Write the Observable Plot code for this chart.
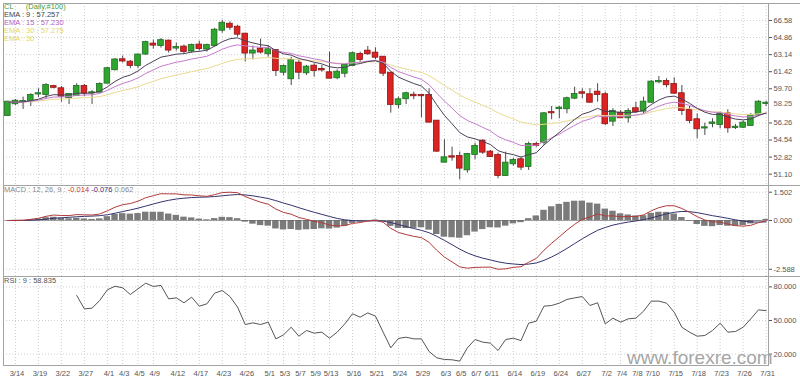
<!DOCTYPE html>
<html>
<head>
<meta charset="utf-8">
<script src="https://cdn.jsdelivr.net/npm/d3@7"></script>
<script src="https://cdn.jsdelivr.net/npm/@observablehq/plot@0.6"></script>
<style>
  html, body { margin: 0; padding: 0; background: #fff; }
  #wrap { position: relative; width: 800px; height: 378px; overflow: hidden; font-family: "Liberation Sans", Arial, sans-serif; }
  .pane { position: absolute; left: 0; }
  .pane svg { display: block; overflow: visible; }
  .lbl { position: absolute; font-size: 7.5px; line-height: 8px; white-space: pre; }
  #wm { position: absolute; left: 627px; top: 352px; font-size: 19px; line-height: 12px; height: 12px; color: #a6a6a6; white-space: pre; }
</style>
</head>
<body>
<div id="wrap">
  <div class="pane" id="pMain" style="top:0px"></div>
  <div class="pane" id="pMacd" style="top:185px"></div>
  <div class="pane" id="pRsi" style="top:276px"></div>
  <div class="lbl" style="left:4px;top:2.5px;color:#3f9d3f">CL      (Daily,#100)</div>
  <div class="lbl" style="left:4px;top:10.5px;color:#444">EMA : 9 : 57.257</div>
  <div class="lbl" style="left:4px;top:18.5px;color:#b35fbe">EMA : 15 : 57.230</div>
  <div class="lbl" style="left:4px;top:26.5px;color:#e3d66a">EMA : 30 : 57.275</div>
  <div class="lbl" style="left:4px;top:34.5px;color:#e3d66a">EMA : 30</div>
  <div class="lbl" style="left:4px;top:186px;color:#888">MACD : 12, 26, 9 : <span style="color:#c23232">-0.014</span> <span style="color:#33337a">-0.076</span> <span style="color:#888">0.062</span></div>
  <div class="lbl" style="left:4px;top:277px;color:#555">RSI : 9 : 58.835</div>
  <div id="wm">www.forexre.com</div>
</div>
<script>
// ---- data ----
const dates = ["3/13","3/14","3/15","3/18","3/19","3/20","3/21","3/22","3/25","3/26","3/27","3/28","3/29",
  "4/1","4/2","4/3","4/4","4/5","4/8","4/9","4/10","4/11","4/12","4/15","4/16","4/17","4/18",
  "4/22","4/23","4/24","4/25","4/26","4/29","4/30","5/1","5/2","5/3","5/6","5/7","5/8","5/9","5/10",
  "5/13","5/14","5/15","5/16","5/17","5/20","5/21","5/22","5/23","5/24","5/27","5/28","5/29","5/30","5/31",
  "6/3","6/4","6/5","6/6","6/7","6/10","6/11","6/12","6/13","6/14","6/17","6/18","6/19","6/20","6/21",
  "6/24","6/25","6/26","6/27","6/28","7/1","7/2","7/3","7/4","7/5","7/8","7/9","7/10","7/11","7/12",
  "7/15","7/16","7/17","7/18","7/19","7/22","7/23","7/24","7/25","7/26","7/29","7/30","7/31"];

const tickLabels = ["3/14","3/19","3/22","3/27","4/1","4/3","4/5","4/9","4/12","4/17","4/23","4/26","5/1","5/3","5/7","5/9","5/13","5/16","5/21","5/24","5/29","6/3","6/5","6/7","6/11","6/14","6/19","6/24","6/27","7/2","7/4","7/8","7/10","7/15","7/18","7/23","7/26","7/31"];

const open = [57.01,58.19,58.40,58.42,59.18,59.13,59.92,59.70,58.80,59.03,
  59.93,59.28,59.36,60.27,61.62,62.62,62.38,62.05,63.20,64.20,
  64.05,64.50,63.80,63.90,63.50,64.10,63.70,64.05,65.60,66.20,
  65.90,65.20,63.30,63.70,63.23,63.56,61.37,60.71,62.28,61.31,
  61.98,61.65,61.31,60.81,61.27,62.05,63.16,63.49,63.29,62.88,
  61.27,58.12,58.70,59.05,59.02,59.03,56.44,52.31,52.85,52.88,
  51.54,53.09,54.43,53.32,52.98,50.97,52.15,52.55,51.88,54.08,
  54.32,57.30,57.70,57.69,58.76,59.30,59.10,59.36,59.10,56.44,
  57.25,56.78,57.69,57.45,58.35,60.40,60.44,60.13,59.20,57.52,
  56.58,55.75,56.20,56.11,57.18,55.80,55.83,56.01,57.11,58.22];
const high = [58.45,58.62,58.86,59.20,59.70,60.21,60.05,59.93,59.20,60.20,
  60.13,59.53,60.30,61.85,62.75,63.00,62.55,63.20,64.50,64.60,
  64.75,64.60,64.30,64.10,64.20,64.50,64.20,65.80,66.60,66.45,
  66.10,65.30,64.00,64.70,64.06,63.60,62.10,62.88,62.55,62.05,
  62.22,62.05,63.39,61.60,62.22,63.39,63.39,63.96,63.83,62.95,
  61.30,58.86,59.36,59.36,59.10,59.70,56.50,54.57,53.82,53.32,
  53.20,54.22,54.57,53.49,53.22,53.32,52.70,52.82,54.33,54.30,
  57.30,57.92,57.92,58.86,59.86,59.70,59.70,60.21,59.36,57.70,
  57.50,57.70,58.35,58.86,60.54,60.94,60.71,60.81,60.03,57.92,
  57.18,56.24,56.68,57.35,57.59,56.10,56.45,57.20,58.50,58.45];
const low = [56.95,58.02,57.62,57.92,58.80,58.70,59.70,58.35,58.12,58.93,
  58.93,58.12,59.30,60.20,61.50,62.30,61.72,61.72,63.05,63.70,
  63.80,63.30,63.50,63.20,63.30,63.50,63.40,63.90,65.30,65.60,
  64.90,62.40,62.60,63.20,62.88,60.94,61.00,60.03,60.61,61.04,
  60.87,61.38,60.71,60.61,60.81,62.00,62.38,63.06,62.62,60.94,
  57.25,57.69,58.12,58.60,56.78,56.30,53.30,52.30,52.41,50.54,
  51.20,52.55,53.09,52.82,50.64,50.87,51.90,51.47,51.47,53.80,
  54.00,56.58,56.68,57.18,58.60,58.70,58.25,58.35,56.00,55.90,
  56.70,56.24,57.25,57.18,58.25,60.20,59.80,59.13,57.01,56.18,
  54.67,55.00,55.77,55.67,55.23,55.60,55.70,55.90,56.90,57.92];
const close = [58.35,58.45,58.42,59.03,59.20,60.03,59.85,58.96,59.13,59.93,
  59.26,59.30,60.13,61.72,62.60,62.50,62.05,63.10,64.35,64.10,
  64.55,63.60,63.85,63.45,64.05,63.75,64.05,65.60,66.30,65.90,
  65.20,63.30,63.50,63.40,63.63,61.54,61.95,62.55,61.37,61.88,
  61.54,61.60,60.77,61.37,62.05,63.23,62.65,63.23,62.88,61.27,
  58.12,58.59,59.20,59.00,59.00,56.34,53.42,52.75,52.82,51.71,
  53.09,53.89,53.32,52.88,50.97,52.21,52.48,51.81,54.09,54.00,
  57.18,57.28,57.75,58.70,59.13,59.25,58.35,59.13,56.18,57.42,
  56.78,57.42,57.42,58.35,60.37,60.43,60.11,59.26,57.52,56.51,
  55.67,55.77,56.26,57.11,55.77,55.83,56.24,57.01,58.35,58.25];

const ema9 = [58.35,58.37,58.38,58.51,58.65,58.93,59.11,59.08,59.09,59.26,
  59.26,59.27,59.44,59.90,60.44,60.85,61.09,61.49,62.06,62.47,
  62.89,63.03,63.19,63.24,63.40,63.47,63.59,63.99,64.45,64.74,
  64.83,64.52,64.32,64.14,64.04,63.54,63.22,63.09,62.75,62.58,
  62.37,62.21,61.92,61.81,61.86,62.13,62.24,62.44,62.53,62.28,
  61.45,60.88,60.54,60.23,59.98,59.25,58.09,57.02,56.18,55.29,
  54.85,54.66,54.39,54.09,53.47,53.22,53.07,52.82,53.07,53.26,
  54.04,54.69,55.30,55.98,56.61,57.14,57.38,57.73,57.42,57.42,
  57.29,57.32,57.34,57.54,58.11,58.57,58.88,58.96,58.67,58.24,
  57.73,57.34,57.12,57.12,56.85,56.65,56.57,56.66,57.00,57.26];
const ema15 = [58.35,58.36,58.37,58.45,58.55,58.73,58.87,58.88,58.91,59.04,
  59.07,59.10,59.23,59.54,59.92,60.24,60.47,60.80,61.24,61.60,
  61.97,62.17,62.38,62.51,62.70,62.83,62.98,63.31,63.68,63.96,
  64.12,64.02,63.95,63.88,63.85,63.56,63.36,63.26,63.02,62.88,
  62.71,62.57,62.35,62.23,62.21,62.34,62.38,62.49,62.54,62.38,
  61.85,61.44,61.16,60.89,60.65,60.11,59.27,58.46,57.75,57.00,
  56.51,56.18,55.82,55.46,54.90,54.56,54.30,53.99,54.00,54.00,
  54.40,54.76,55.13,55.58,56.02,56.42,56.66,56.97,56.87,56.94,
  56.92,56.98,57.04,57.20,57.60,57.95,58.22,58.35,58.25,58.03,
  57.74,57.49,57.34,57.31,57.12,56.96,56.87,56.89,57.07,57.23];
const ema30 = [58.35,58.36,58.36,58.40,58.46,58.56,58.64,58.66,58.69,58.77,
  58.80,58.84,58.92,59.10,59.33,59.53,59.69,59.91,60.20,60.45,
  60.72,60.90,61.09,61.24,61.43,61.58,61.74,61.98,62.26,62.50,
  62.67,62.71,62.76,62.80,62.86,62.77,62.72,62.71,62.62,62.57,
  62.51,62.45,62.34,62.28,62.26,62.32,62.35,62.40,62.43,62.36,
  62.09,61.86,61.69,61.52,61.35,61.03,60.54,60.04,59.57,59.06,
  58.68,58.37,58.04,57.71,57.28,56.95,56.66,56.35,56.20,56.06,
  56.13,56.21,56.31,56.46,56.63,56.80,56.90,57.05,56.99,57.02,
  57.00,57.03,57.05,57.14,57.35,57.55,57.71,57.81,57.79,57.71,
  57.58,57.46,57.38,57.37,57.26,57.17,57.11,57.10,57.18,57.27];

const macd = [0,0.008,0.011,0.062,0.116,0.222,0.289,0.267,0.260,0.315,
  0.302,0.291,0.345,0.511,0.705,0.841,0.902,1.024,1.207,1.316,
  1.423,1.415,1.413,1.362,1.355,1.310,1.284,1.372,1.482,1.502,
  1.475,1.273,1.115,0.971,0.865,0.606,0.429,0.333,0.160,0.063,
  -0.041,-0.117,-0.242,-0.289,-0.268,-0.154,-0.109,-0.027,0.010,-0.090,
  -0.418,-0.633,-0.746,-0.842,-0.907,-1.160,-1.578,-1.941,-2.197,-2.461,
  -2.530,-2.491,-2.478,-2.475,-2.588,-2.564,-2.487,-2.452,-2.215,-2.011,
  -1.575,-1.207,-0.868,-0.517,-0.201,0.058,0.188,0.350,0.238,0.247,
  0.199,0.211,0.218,0.295,0.513,0.683,0.783,0.785,0.638,0.435,
  0.204,0.028,-0.071,-0.079,-0.191,-0.272,-0.300,-0.257,-0.114,-0.014];
const signal = [0,0.002,0.004,0.015,0.035,0.073,0.116,0.146,0.169,0.198,
  0.219,0.233,0.256,0.307,0.386,0.477,0.562,0.655,0.765,0.875,
  0.985,1.071,1.139,1.184,1.218,1.236,1.246,1.271,1.313,1.351,
  1.379,1.357,1.309,1.241,1.166,1.054,0.929,0.810,0.680,0.556,
  0.437,0.326,0.213,0.112,0.036,-0.002,-0.023,-0.024,-0.017,-0.032,
  -0.109,-0.214,-0.320,-0.425,-0.521,-0.649,-0.835,-1.056,-1.284,-1.520,
  -1.722,-1.876,-1.996,-2.092,-2.191,-2.265,-2.309,-2.338,-2.313,-2.253,
  -2.118,-1.936,-1.722,-1.481,-1.225,-0.969,-0.737,-0.520,-0.368,-0.245,
  -0.156,-0.083,-0.023,0.041,0.135,0.245,0.352,0.439,0.479,0.470,
  0.417,0.339,0.257,0.190,0.114,0.037,-0.031,-0.076,-0.084,-0.076];
const hist = [0,0.006,0.008,0.047,0.081,0.149,0.173,0.121,0.091,0.117,
  0.083,0.058,0.089,0.204,0.319,0.364,0.340,0.369,0.442,0.441,
  0.438,0.344,0.274,0.178,0.137,0.074,0.038,0.101,0.169,0.151,
  0.097,-0.084,-0.194,-0.270,-0.301,-0.448,-0.500,-0.477,-0.520,-0.493,
  -0.478,-0.443,-0.455,-0.401,-0.304,-0.152,-0.086,-0.003,0.027,-0.058,
  -0.309,-0.419,-0.426,-0.417,-0.386,-0.511,-0.743,-0.885,-0.913,-0.941,
  -0.808,-0.615,-0.482,-0.383,-0.397,-0.299,-0.178,-0.114,0.098,0.242,
  0.543,0.729,0.854,0.964,1.024,1.027,0.925,0.870,0.606,0.492,
  0.355,0.294,0.241,0.254,0.378,0.438,0.431,0.346,0.159,-0.035,
  -0.213,-0.311,-0.328,-0.269,-0.305,-0.309,-0.269,-0.181,-0.030,0.062];

const rsi = [null,null,null,null,null,null,null,null,null,72.3,
  60.4,61.0,67.9,77.4,80.6,79.2,73.2,78.3,83.3,80.4,
  81.3,69.3,70.2,65.8,70.8,62.8,64.9,74.4,76.8,71.4,
  61.9,46.4,47.9,46.4,48.5,33.6,37.2,44.0,36.0,41.1,
  38.7,39.6,34.2,39.6,47.0,56.0,53.0,56.8,53.9,39.6,
  25.6,34.0,35.1,33.6,33.6,22.3,16.7,15.2,14.9,13.7,
  25.6,33.0,30.7,29.8,23.2,33.0,34.2,32.1,47.6,49.4,
  62.8,63.4,65.5,68.8,70.2,71.4,63.4,65.8,47.0,52.1,
  48.5,51.5,52.1,58.3,67.3,67.3,65.5,57.4,44.0,39.6,
  36.0,36.6,41.1,47.6,39.6,40.2,44.0,51.5,59.5,58.8];

const priceTicks = [66.58, 64.86, 63.14, 61.42, 59.70, 57.98, 56.26, 54.54, 52.82, 51.10];
const lastPrice = 58.25;
const macdTicks = [1.502, 0, -2.588];
const rsiTicks = [80, 50, 20];

// ---- build ----
const idx = d3.range(close.length);
const bars = idx.map(i => ({i, o: open[i], h: high[i], l: low[i], c: close[i]}));
const up = bars.filter(d => d.c >= d.o);
const down = bars.filter(d => d.c < d.o);
const tickIdx = tickLabels.map(t => dates.indexOf(t));
const xDom = [-0.56, 99.31];
const xFar = 103.6;
const BORDER = "#a3a3a3";
const GRID = {stroke: "#cfcfcf", strokeOpacity: 1, strokeDasharray: "1,2"};
const style = {fontFamily: "'Liberation Sans', Arial, sans-serif", fontSize: "7.5px", color: "#555", background: "transparent", overflow: "visible"};
const bw = 0.37;

const main = Plot.plot({
  width: 800, height: 186, marginTop: 3, marginBottom: 1, marginLeft: 3, marginRight: 32,
  x: {domain: xDom, axis: null},
  y: {domain: [49.96, 68.29], axis: null},
  style,
  marks: [
    Plot.gridY(priceTicks, GRID),
    Plot.gridX(tickIdx, GRID),
    Plot.ruleX(bars, {x: "i", y1: "l", y2: "h", stroke: "#4a4a4a", strokeWidth: 1}),
    Plot.rect(up, {x1: d => d.i - bw, x2: d => d.i + bw, y1: "o", y2: "c", fill: "#2ea62e", stroke: "#1f6c22", strokeWidth: 0.8, insetTop: -0.5, insetBottom: -0.5}),
    Plot.rect(down, {x1: d => d.i - bw, x2: d => d.i + bw, y1: "o", y2: "c", fill: "#dc2222", stroke: "#8c1616", strokeWidth: 0.8, insetTop: -0.5, insetBottom: -0.5}),
    Plot.line(idx, {x: d => d, y: d => ema30[d], stroke: "#eadb92", strokeWidth: 1}),
    Plot.line(idx, {x: d => d, y: d => ema15[d], stroke: "#c67ccd", strokeWidth: 1}),
    Plot.line(idx, {x: d => d, y: d => ema9[d], stroke: "#4c4058", strokeWidth: 1}),
    Plot.frame({stroke: BORDER}),
    Plot.ruleY([68.29], {x1: xDom[0], x2: xFar, stroke: BORDER}),
    Plot.axisY(priceTicks.filter(v => v !== 57.98), {anchor: "right", tickSize: 3, tickPadding: 2, tickFormat: d => d.toFixed(2)}),
    Plot.text([lastPrice], {x: xDom[1], y: d => d, dx: 5, textAnchor: "start", text: d => d.toFixed(2), fill: "#666"})
  ]
});
document.getElementById("pMain").appendChild(main);

const macdPlot = Plot.plot({
  width: 800, height: 92, marginTop: 0, marginBottom: 1, marginLeft: 3, marginRight: 32,
  x: {domain: xDom, axis: null},
  y: {domain: [-2.972, 1.858], axis: null},
  style,
  marks: [
    Plot.gridY(macdTicks, GRID),
    Plot.gridX(tickIdx, GRID),
    Plot.rect(idx, {x1: d => d - 0.42, x2: d => d + 0.42, y1: 0, y2: d => hist[d], fill: "#7b7b7b"}),
    Plot.ruleY([0], {stroke: "#666", strokeWidth: 0.6}),
    Plot.line(idx, {x: d => d, y: d => signal[d], stroke: "#34346e", strokeWidth: 1}),
    Plot.line(idx, {x: d => d, y: d => macd[d], stroke: "#b23a3a", strokeWidth: 1}),
    Plot.frame({stroke: BORDER}),
    Plot.ruleY([1.858], {x1: xDom[0], x2: xFar, stroke: BORDER}),
    Plot.axisY(macdTicks, {anchor: "right", tickSize: 3, tickPadding: 2, tickFormat: d => d.toFixed(3)})
  ]
});
document.getElementById("pMacd").appendChild(macdPlot);

const rsiPlot = Plot.plot({
  width: 800, height: 102, marginTop: 0, marginBottom: 13, marginLeft: 3, marginRight: 32,
  x: {domain: xDom, axis: null},
  y: {domain: [9.82, 89.29], axis: null},
  style,
  marks: [
    Plot.gridY(rsiTicks, GRID),
    Plot.gridX(tickIdx, GRID),
    Plot.line(idx, {x: d => d, y: d => rsi[d], stroke: "#555", strokeWidth: 1}),
    Plot.frame({stroke: BORDER}),
    Plot.ruleY([89.29], {x1: xDom[0], x2: xFar, stroke: BORDER}),
    Plot.axisY(rsiTicks, {anchor: "right", tickSize: 3, tickPadding: 2, tickFormat: d => d.toFixed(3)}),
    Plot.axisX(tickIdx, {anchor: "bottom", tickSize: 0, tickPadding: 5, dx: 1.5, tickFormat: i => dates[i]})
  ]
});
document.getElementById("pRsi").appendChild(rsiPlot);
</script>
</body>
</html>
